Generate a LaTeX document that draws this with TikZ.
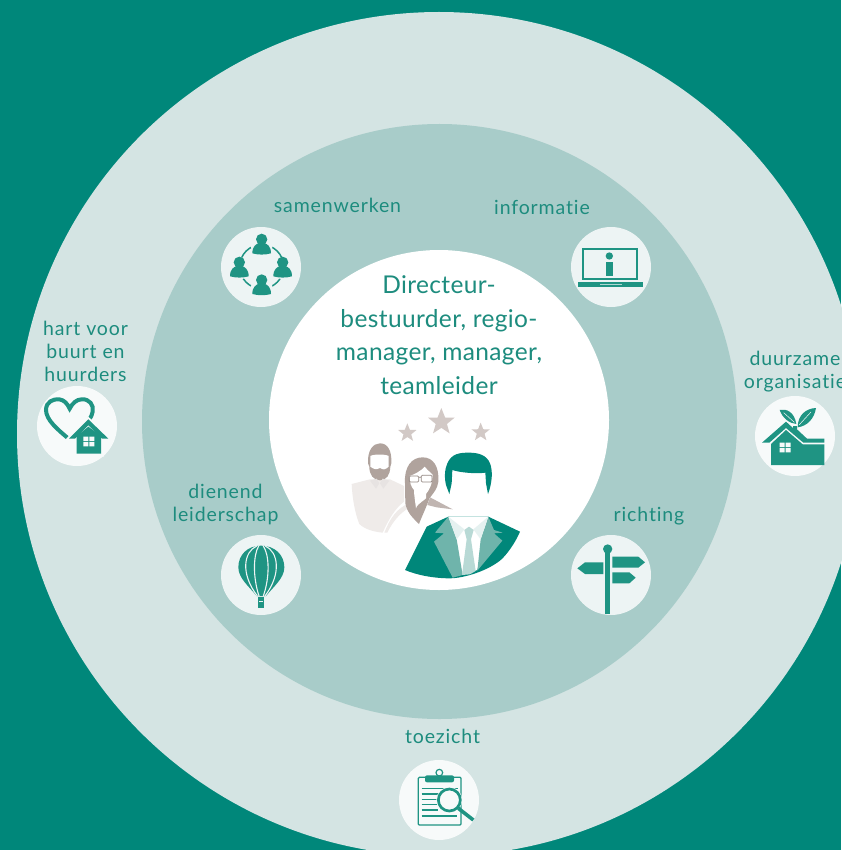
\documentclass[tikz,border=0pt]{standalone}
\usepackage{fontspec}
\setmainfont{Lato}
\newfontfamily\lblfont[LetterSpace=4.5,Ligatures=NoCommon]{Lato}
\newfontfamily\midfont[LetterSpace=1.5,Ligatures=NoCommon]{Lato}
\definecolor{bgteal}{HTML}{00877A}
\definecolor{ringout}{HTML}{D4E4E3}
\definecolor{ringmid}{HTML}{A8CCC9}
\definecolor{iconbgA}{HTML}{EDF4F4}
\definecolor{iconbgB}{HTML}{F7FAFA}
\definecolor{icont}{HTML}{1F9483}
\definecolor{txtt}{HTML}{1D8C7E}
\definecolor{pbrown}{HTML}{B0A39D}
\definecolor{plight}{HTML}{EFEBE9}
\definecolor{pstar}{HTML}{D2C9C6}
\definecolor{plapel}{HTML}{6FB4AB}
\definecolor{pshirt}{HTML}{E5F1F0}
\definecolor{ptie}{HTML}{B8D9D5}
\tikzset{
  disc/.style={circle,inner sep=0pt,minimum size=#1},
  lbl/.style={text=txtt,font=\lblfont\fontsize{19.5}{23}\selectfont,align=center,inner sep=0pt},
  midtext/.style={text=txtt,font=\midfont\fontsize{24.5}{33.5}\selectfont,align=center,inner sep=0pt},
  iconA/.style={disc=80pt,fill=iconbgA},
  iconB/.style={disc=80pt,fill=iconbgB},
  zoomed/.style={x=0.33333pt,y=-0.33333pt},
  ic/.style={fill=icont,draw=none}
}
\newcommand{\zperson}[2]{%
  \fill[icont] (#1,#2) circle (17);
  \fill[icont] (#1-28,#2+42) .. controls (#1-28,#2+20) and (#1-16,#2+14) .. (#1-8,#2+11)
     -- (#1+8,#2+11) .. controls (#1+16,#2+14) and (#1+28,#2+20) .. (#1+28,#2+42)
     .. controls (#1+10,#2+47) and (#1-10,#2+47) .. (#1-28,#2+42) -- cycle;
}
\newcommand{\zstar}[3]{%
  \fill[pstar] (#1,#2-#3) -- (#1+0.27*#3,#2-0.32*#3) -- (#1+0.95*#3,#2-0.31*#3)
   -- (#1+0.4*#3,#2+0.14*#3) -- (#1+0.59*#3,#2+0.81*#3) -- (#1,#2+0.42*#3)
   -- (#1-0.59*#3,#2+0.81*#3) -- (#1-0.4*#3,#2+0.14*#3) -- (#1-0.95*#3,#2-0.31*#3)
   -- (#1-0.27*#3,#2-0.32*#3) -- cycle;
}
\begin{document}
\begin{tikzpicture}[x=1pt,y=-1pt]
\useasboundingbox (0,0) rectangle (841,850);
\fill[bgteal] (0,0) rectangle (841,850);
\node[disc=844pt,fill=ringout] (outer) at (439,434) {};
\node[disc=595pt,fill=ringmid] (middle) at (439.5,421.5) {};
\node[disc=340pt,fill=white] (centre) at (439,420) {};

\node[iconA] (samen) at (261,267) {};
\node[iconA] (info) at (611,267) {};
\node[iconB] (hart) at (77,426) {};
\node[iconB] (duur) at (795,436) {};
\node[iconA] (dien) at (261,575) {};
\node[iconA] (richt) at (611,575) {};
\node[iconB] (toez) at (439,800) {};

\node[lbl] (tsamen) at (337.5,205) {samenwerken};
\node[lbl] (tinfo) at (542,207) {informatie};
\node[lbl] (thart) at (85.5,351.5) {hart voor\\buurt en\\huurders};
\node[lbl] (tduur) at (795,372) {duurzame\\organisatie};
\node[lbl] (tdien) at (225.5,504) {dienend\\leiderschap};
\node[lbl] (trich) at (649,516) {richting};
\node[lbl] (ttoez) at (442.5,736) {toezicht};
\node[midtext] (tmid) at (439,335) {Directeur-\\bestuurder, regio-\\manager, manager,\\teamleider};

% people and stars
\begin{scope}[shift={(270,250)},zoomed]
  \zstar{514}{516}{42}
  \zstar{412}{549}{29}
  \zstar{632}{547}{29}
  % back man
  \fill[plight] (245,702) -- (300,688) -- (360,688) -- (402,708) -- (402,755)
     .. controls (375,775) and (355,810) .. (338,848)
     .. controls (310,845) and (285,838) .. (268,822)
     .. controls (255,790) and (247,745) .. (245,702) -- cycle;
  \fill[pbrown] (294,640) .. controls (292,600) and (310,580) .. (330,580)
     .. controls (352,580) and (366,600) .. (364,640) -- (361,650)
     .. controls (360,675) and (350,690) .. (330,691)
     .. controls (310,690) and (298,675) .. (298,650) -- cycle;
  \fill[white] (301,650) -- (301,618) .. controls (312,612) and (345,612) .. (356,618)
     -- (356,650) .. controls (345,660) and (340,660) .. (330,654)
     .. controls (318,660) and (312,658) .. (301,650) -- cycle;
  \fill[white!70!pbrown] (300,692) -- (320,686) -- (328,700) -- (318,716) -- cycle;
  \fill[white!70!pbrown] (358,692) -- (338,686) -- (330,700) -- (340,716) -- cycle;
  % woman
  \fill[white] (343,850) .. controls (360,800) and (385,775) .. (425,750) -- (480,742) -- (548,778) -- (500,815) -- (440,850) -- cycle;
  \fill[plight] (343,848) .. controls (360,805) and (380,775) .. (420,758) -- (425,768) .. controls (395,785) and (370,810) .. (352,848) -- cycle;
  \fill[pbrown!80!white] (480,742) -- (548,778) -- (500,772) -- (472,765) -- cycle;
  \fill[pbrown] (405,700) .. controls (402,650) and (425,622) .. (458,622)
     .. controls (490,622) and (508,650) .. (505,695)
     .. controls (503,715) and (490,730) .. (478,745)
     .. controls (470,770) and (455,800) .. (447,822)
     .. controls (430,805) and (412,790) .. (406,760) -- cycle;
  \fill[white] (418,678) .. controls (430,675) and (455,662) .. (464,650)
     .. controls (472,660) and (482,668) .. (488,674)
     .. controls (488,700) and (478,720) .. (468,732) -- (468,745)
     .. controls (450,760) and (440,765) .. (438,775)
     .. controls (435,750) and (432,735) .. (432,720)
     .. controls (424,712) and (418,695) .. (418,678) -- cycle;
  \draw[line width=0.8pt,pbrown!85!black,rounded corners=1pt] (418,678) rectangle (446,696) (454,676) rectangle (486,696) (446,682) -- (454,682);
  % lead man: jacket
  \fill[bgteal] (405,960) -- (470,830) -- (535,800) -- (655,800) -- (750,845)
     .. controls (735,880) and (710,915) .. (690,932)
     .. controls (640,970) and (570,985) .. (540,985)
     .. controls (490,985) and (440,975) .. (405,960) -- cycle;
  % shirt
  \fill[white] (535,800) -- (655,800) -- (622,960) -- (575,975) -- cycle;
  % lapels
  \fill[plapel] (535,800) -- (495,848) -- (522,850) -- (492,875) -- (548,983) -- (578,975) -- (560,868) -- cycle;
  \fill[plapel] (655,800) -- (672,840) -- (698,848) -- (672,850) -- (697,872) -- (622,962) -- (632,868) -- cycle;
  % collar
  \fill[pshirt] (535,800) -- (583,838) -- (560,868) -- cycle;
  \fill[pshirt] (655,800) -- (610,838) -- (632,868) -- cycle;
  % tie
  \fill[ptie] (583,840) -- (597,830) -- (611,840) -- (603,868) -- (617,963) -- (600,973) -- (576,975) -- (590,868) -- cycle;
  % head hair
  \fill[bgteal] (538,732) -- (528,705) .. controls (522,680) and (525,655) .. (532,640)
     .. controls (545,610) and (570,608) .. (597,608)
     .. controls (625,608) and (650,615) .. (660,640)
     .. controls (668,660) and (668,695) .. (654,732)
     -- (648,700) -- (646,668) .. controls (620,672) and (570,668) .. (547,660)
     -- (545,700) -- cycle;
\end{scope}

% samenwerken icon
\begin{scope}[shift={(210,190)},zoomed]
  \draw[icont,line width=1.5pt] (155,230) circle (66);
  \fill[iconbgA] (155,165) circle (33);
  \fill[iconbgA] (90,235) circle (33);
  \fill[iconbgA] (220,235) circle (33);
  \fill[iconbgA] (155,295) circle (33);
  \zperson{155}{148}
  \zperson{88}{217}
  \zperson{218}{217}
  \zperson{155}{270}
  % informatie icon
  \draw[icont,line width=2pt] (1118,178) rectangle (1282,268);
  \fill[icont] (1105,277) rectangle (1298,291);
  \fill[iconbgA!70!icont] (1170,281) rectangle (1235,285);
  \fill[icont] (1198,198) circle (11);
  \fill[icont] (1187,216) rectangle (1209,258);
\end{scope}

% hart icon
\begin{scope}[shift={(30,310)},zoomed]
  \draw[icont,line width=4pt] (112,383) .. controls (85,360) and (48,330) .. (48,300)
     .. controls (48,275) and (70,266) .. (88,268) .. controls (102,270) and (112,280) .. (119,296)
     .. controls (127,280) and (140,268) .. (155,268) .. controls (178,266) and (192,285) .. (188,305)
     .. controls (186,315) and (183,322) .. (178,328);
  \fill[iconbgB] (175,320) -- (105,390) -- (130,395) -- (130,440) -- (222,440) -- (222,395) -- (248,390) -- cycle;
  \fill[icont] (175,328) -- (117,386) -- (135,386) -- (175,346) -- (216,386) -- (235,386) -- cycle;
  \fill[icont] (140,378) -- (175,350) -- (213,378) -- (213,431) -- (140,431) -- cycle;
  \fill[iconbgB] (160,380) rectangle (175,393) (178,380) rectangle (193,393)
     (160,396) rectangle (175,409) (178,396) rectangle (193,409);
\end{scope}

% duurzame icon
\begin{scope}[shift={(731,340)},zoomed]
  \fill[icont] (165,245) -- (93,308) -- (115,308) -- (165,264) -- (217,308) -- (280,308) -- (280,296) -- (228,296) -- (198,268) -- (198,258) -- (186,258) -- (186,264) -- cycle;
  \fill[icont] (120,312) -- (165,270) -- (215,313) -- (280,313) -- (280,375) -- (120,375) -- cycle;
  \fill[iconbgB] (146,308) rectangle (161,321) (164,308) rectangle (179,321)
     (146,324) rectangle (161,337) (164,324) rectangle (179,337);
  \fill[icont] (146,210) .. controls (165,205) and (190,215) .. (196,252)
     .. controls (175,250) and (155,235) .. (146,210) -- cycle;
  \fill[icont] (255,204) .. controls (225,205) and (200,225) .. (200,262)
     .. controls (230,258) and (250,235) .. (255,204) -- cycle;
  \draw[iconbgB,line width=0.5pt] (158,218) -- (190,247) (240,216) -- (205,254);
\end{scope}

% balloon icon
\begin{scope}[shift={(160,480)},zoomed]
  \fill[icont] (303,197) .. controls (345,197) and (373,225) .. (373,262)
     .. controls (373,295) and (340,320) .. (318,348) -- (290,348)
     .. controls (268,320) and (235,295) .. (235,262)
     .. controls (235,225) and (262,197) .. (303,197) -- cycle;
  \draw[iconbgA,line width=1.1pt]
     (290,198) .. controls (252,215) and (240,280) .. (292,348)
     (316,198) .. controls (354,215) and (366,280) .. (315,348)
     (296,198) .. controls (280,225) and (278,290) .. (297,348)
     (310,198) .. controls (328,225) and (330,290) .. (310,348);
  \fill[icont] (295,352) rectangle (313,383);
  \fill[iconbgA] (298,364) rectangle (310,367);
\end{scope}

% signpost icon
\begin{scope}[shift={(560,500)},zoomed]
  \fill[icont] (135,150) rectangle (150,343);
  \fill[icont] (143,147) circle (14);
  \fill[icont] (130,187) -- (75,187) -- (52,205) -- (75,222) -- (130,222) -- cycle;
  \fill[icont] (157,170) -- (235,170) -- (255,187) -- (235,203) -- (157,203) -- cycle;
  \fill[icont] (157,217) -- (208,217) -- (227,233) -- (208,250) -- (157,250) -- cycle;
\end{scope}

% toezicht icon
\begin{scope}[shift={(380,720)},zoomed]
  \draw[icont,line width=1.2pt,rounded corners=1pt] (115,172) rectangle (243,315);
  \draw[icont,line width=1.2pt] (178,158) circle (10);
  \fill[icont,rounded corners=2pt] (135,166) rectangle (222,187);
  \draw[icont,line width=1.3pt] (125,205) -- (233,205) (125,222) -- (178,222) (125,238) -- (170,238)
     (125,254) -- (170,254) (125,270) -- (175,270) (125,288) -- (230,288);
  \fill[iconbgB] (208,240) circle (39);
  \draw[icont,line width=2.7pt] (208,240) circle (33);
  \draw[icont,line width=3.6pt] (235,265) -- (280,300);
\end{scope}
\end{tikzpicture}
\end{document}
